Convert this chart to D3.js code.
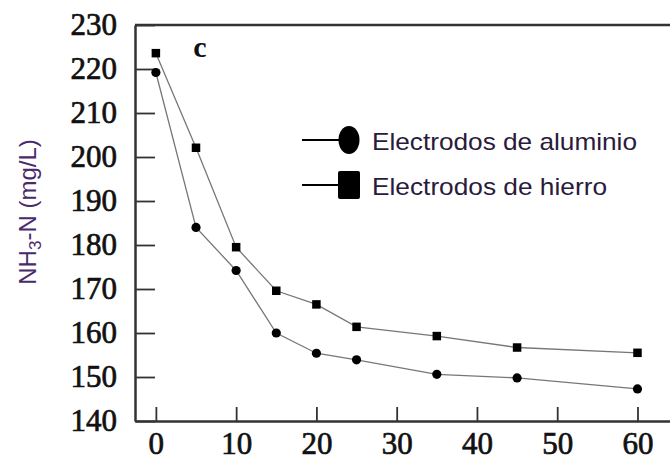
<!DOCTYPE html>
<html>
<head>
<meta charset="utf-8">
<script src="https://cdn.jsdelivr.net/npm/d3@7"></script>
<style>
  html, body { margin: 0; padding: 0; background: #fff; }
  svg { display: block; }
</style>
</head>
<body>
<svg id="chart" width="670" height="455"></svg>
<script>
// Reaction time (min) and ammonium nitrogen concentration for each electrode type
const time = [0, 5, 10, 15, 20, 25, 35, 45, 60];
const aluminio = [219.2, 184.0, 174.2, 160.0, 155.4, 153.9, 150.6, 149.8, 147.3];
const hierro = [223.6, 202.1, 179.5, 169.6, 166.5, 161.4, 159.3, 156.7, 155.5];
const xTicks = [0, 10, 20, 30, 40, 50, 60];
const yTicks = [140, 150, 160, 170, 180, 190, 200, 210, 220, 230];
const legendLabels = ["Electrodos de aluminio", "Electrodos de hierro"];

const svg = d3.select("#chart");
const plotLeft = 135, plotRight = 672, plotTop = 25, plotBottom = 421;

const x = d3.scaleLinear().domain([-2.6, 64.3]).range([plotLeft, plotRight]);
const y = d3.scaleLinear().domain([140, 230]).range([plotBottom, plotTop]);

const axisColor = "#333";
const serif = "'Liberation Serif', 'Times New Roman', serif";
const sans = "'Liberation Sans', Arial, sans-serif";

// top frame line
svg.append("line")
  .attr("x1", plotLeft).attr("x2", plotRight)
  .attr("y1", plotTop).attr("y2", plotTop)
  .attr("stroke", axisColor).attr("stroke-width", 2.5);

// y axis
const gy = svg.append("g")
  .attr("transform", `translate(${plotLeft},0)`)
  .call(d3.axisLeft(y).tickValues(yTicks).tickSizeInner(-20).tickSizeOuter(0).tickPadding(18));

// x axis
const gx = svg.append("g")
  .attr("transform", `translate(0,${plotBottom})`)
  .call(d3.axisBottom(x).tickValues(xTicks).tickSizeInner(-14).tickSizeOuter(0).tickPadding(11));

[gx, gy].forEach(g => {
  g.select(".domain").attr("stroke", axisColor).attr("stroke-width", 2.5);
  g.selectAll(".tick line").attr("stroke", axisColor).attr("stroke-width", 1.8);
  g.selectAll(".tick text")
    .attr("fill", "#111")
    .attr("stroke", "#111")
    .attr("stroke-width", 0.7)
    .style("font-family", serif)
    .style("font-size", "31px");
});

// series lines
const line = d3.line()
  .x((d, i) => x(time[i]))
  .y(d => y(d));

[aluminio, hierro].forEach(s => {
  svg.append("path")
    .datum(s)
    .attr("d", line)
    .attr("fill", "none")
    .attr("stroke", "#777")
    .attr("stroke-width", 1.3);
});

// markers
svg.append("g").selectAll("circle")
  .data(aluminio)
  .join("circle")
  .attr("cx", (d, i) => x(time[i]))
  .attr("cy", d => y(d))
  .attr("r", 4.6)
  .attr("fill", "#000");

const sq = 8.5;
svg.append("g").selectAll("rect")
  .data(hierro)
  .join("rect")
  .attr("x", (d, i) => x(time[i]) - sq / 2)
  .attr("y", d => y(d) - sq / 2)
  .attr("width", sq)
  .attr("height", sq)
  .attr("fill", "#000");

// panel letter
svg.append("text")
  .attr("x", 200).attr("y", 57)
  .attr("text-anchor", "middle")
  .style("font-family", serif)
  .style("font-size", "30px")
  .style("font-weight", "bold")
  .attr("fill", "#111")
  .text("c");

// legend
const legendRows = [
  { label: legendLabels[0], cy: 140, width: 265 },
  { label: legendLabels[1], cy: 185, width: 235 }
];
const lg = svg.append("g");
legendRows.forEach((r, i) => {
  lg.append("line")
    .attr("x1", 302).attr("x2", 340)
    .attr("y1", r.cy).attr("y2", r.cy)
    .attr("stroke", "#000").attr("stroke-width", 2);
  if (i === 0) {
    lg.append("ellipse")
      .attr("cx", 349).attr("cy", r.cy)
      .attr("rx", 10.5).attr("ry", 14)
      .attr("fill", "#000");
  } else {
    lg.append("rect")
      .attr("x", 338).attr("y", r.cy - 14)
      .attr("width", 22).attr("height", 28)
      .attr("rx", 2)
      .attr("fill", "#000");
  }
  lg.append("text")
    .attr("x", 372).attr("y", r.cy + 10)
    .attr("textLength", r.width)
    .attr("lengthAdjust", "spacingAndGlyphs")
    .style("font-family", sans)
    .style("font-size", "24px")
    .attr("fill", "#2a1a3c")
    .text(r.label);
});

// y axis title
const yt = svg.append("text")
  .attr("transform", "translate(36,212) rotate(-90)")
  .attr("text-anchor", "middle")
  .style("font-family", sans)
  .style("font-size", "24px")
  .attr("fill", "#4a2a6e");
yt.append("tspan").text("NH");
yt.append("tspan").attr("dy", 5).style("font-size", "17px").text("3");
yt.append("tspan").attr("dy", -5).text("-N (mg/L)");
</script>
</body>
</html>
